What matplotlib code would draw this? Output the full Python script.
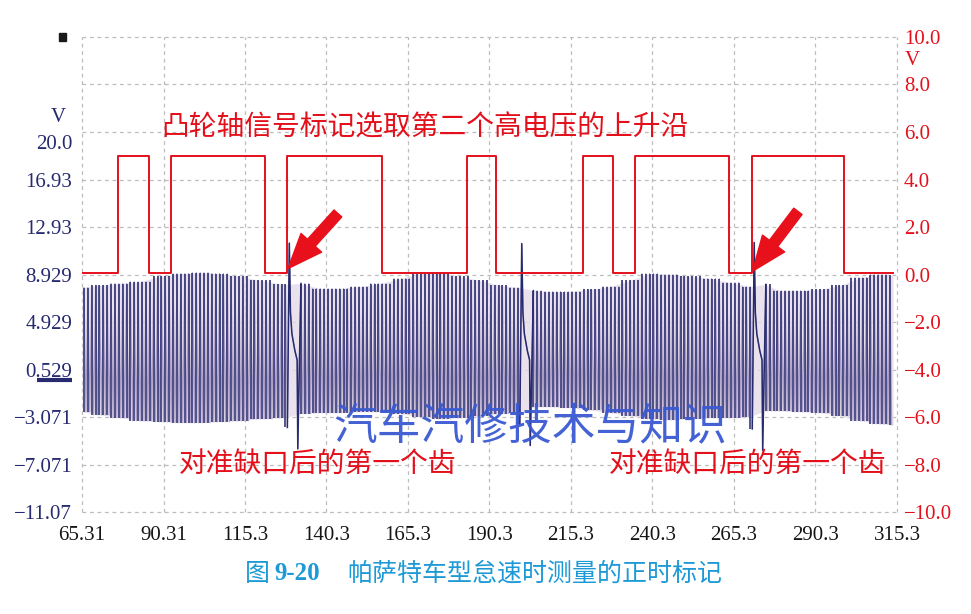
import numpy as np
import matplotlib
matplotlib.use("Agg")
import matplotlib.pyplot as plt
from matplotlib.patches import Rectangle
from matplotlib.lines import Line2D

plt.rcParams["font.family"] = ["Liberation Serif", "DejaVu Serif"]
CJK = ["Noto Sans CJK SC", "DejaVu Sans"]

NAVY = "#262a6e"
RED = "#e3101c"
GRID = "#bdbdbd"

# ── axis labels ──────────────────────────────────────────────────────────────

X_TICKS = [65.31, 90.31, 115.3, 140.3, 165.3, 190.3, 215.3, 240.3, 265.3, 290.3, 315.3]
X_LABELS = ["65.31", "90.31", "115.3", "140.3", "165.3", "190.3",
            "215.3", "240.3", "265.3", "290.3", "315.3"]

# crank channel scale (left); the top label sits a little below its gridline
LEFT_TICKS = [5.6, 4, 2, 0, -2, -4, -6, -8, -10]
LEFT_LABELS = ["20.0", "16.93", "12.93", "8.929", "4.929", "0.529",
               "\u22123.071", "\u22127.071", "\u221211.07"]

RIGHT_TICKS = [10, 8, 6, 4, 2, 0, -2, -4, -6, -8, -10]

# ── cam sensor (red) ─────────────────────────────────────────────────────────

CAM_START, CAM_END = 65.31, 314.1
CAM_EDGES = [76.4, 85.9, 92.6, 121.4, 128.1, 157.3, 183.5, 192.3,
             219.1, 228.3, 234.9, 263.7, 270.7, 299.1]
CAM_LOW, CAM_HIGH = 0.05, 5.0

# ── crank sensor (navy), 60-2 trigger wheel ──────────────────────────────────

CRANK_START, CRANK_END = 65.31, 314.1
GAP_TIMES = [128.9, 200.2, 271.5]        # last tooth before each gap
GAP_PEAK = [1.32, 1.30, 1.35]
GAP_DIP = [-7.34, -7.20, -7.40]
PRE_GAP_DIP = [-6.44, -6.30, -6.50]
GAP_SLOPE_T = [0.35, 0.80, 1.70, 2.40]  # ms after the gap tooth
GAP_SLOPE_V = [-1.60, -2.50, -3.20, -3.60]
GAP_PLUNGE_T = 2.60

ENV_T = [65.3, 70.8, 77.0, 83.1, 89.2, 95.4, 101.5, 107.6, 113.8, 119.9, 127.6,
         132.2, 138.3, 144.4, 150.6, 156.7, 162.9, 169.0, 175.1, 181.3, 187.4, 193.5, 199.1,
         204.3, 208.9, 215.0, 221.1, 227.3, 233.4, 239.5, 245.7, 251.8, 258.0, 264.1, 270.2,
         274.8, 279.4, 285.6, 291.7, 297.8, 304.0, 310.1, 314.1]
ENV_HI = [-0.55, -0.46, -0.38, -0.30, -0.08, 0.04, 0.08, 0.04, -0.08, -0.25, -0.42,
          -0.38, -0.59, -0.59, -0.51, -0.38, -0.17, 0.04, 0.08, -0.08, -0.25, -0.46, -0.55,
          -0.68, -0.72, -0.72, -0.63, -0.51, -0.25, 0.04, 0.00, -0.08, -0.17, -0.34, -0.51,
          -0.42, -0.68, -0.68, -0.63, -0.46, -0.13, 0.00, -0.04]
ENV_LO = [-5.78, -5.91, -6.03, -6.16, -6.20, -6.24, -6.24, -6.20, -6.16, -6.08, -6.03,
          -5.86, -5.82, -5.82, -5.78, -5.78, -5.86, -5.99, -6.08, -6.03, -5.95, -5.86, -5.82,
          -5.57, -5.57, -5.61, -5.70, -5.82, -5.95, -6.08, -6.12, -6.08, -6.03, -6.03, -5.99,
          -5.74, -5.74, -5.78, -5.82, -5.95, -6.16, -6.29, -6.33]


def cam_trace():
    t = [CAM_START]
    v = [CAM_LOW]
    level = CAM_LOW
    for e in CAM_EDGES:
        t += [e, e]
        nxt = CAM_HIGH if level == CAM_LOW else CAM_LOW
        v += [level, nxt]
        level = nxt
    t.append(CAM_END)
    v.append(level)
    return np.array(t), np.array(v)


def crank_trace():
    """Returns the full zigzag trace, the tooth flanks and the gap segments."""
    env_t = np.array(ENV_T)
    pitch = (GAP_TIMES[-1] - GAP_TIMES[0]) / (60 * (len(GAP_TIMES) - 1))

    # tooth index counted from the first gap tooth; teeth 1 and 2 of each rev are missing
    k_min = int(np.floor((CRANK_START - GAP_TIMES[0]) / pitch))
    k_max = int(np.ceil((CRANK_END - GAP_TIMES[0]) / pitch))
    t_out, v_out = [], []
    flanks = []          # (t, lo, hi) of every regular tooth
    gaps = []            # (t array, v array) of each gap transient
    for k in range(k_min, k_max + 1):
        if k % 60 in (1, 2):
            continue
        tk = GAP_TIMES[0] + k * pitch
        if tk < CRANK_START or tk > CRANK_END:
            continue
        i = int(np.argmin(np.abs(env_t - tk)))
        gap_idx = k // 60 if k % 60 == 0 else None
        pre_idx = (k + 1) // 60 if (k + 1) % 60 == 0 else None
        if gap_idx is not None and 0 <= gap_idx < len(GAP_TIMES):
            tg = GAP_TIMES[gap_idx]
            gt = [t_out[-1] if t_out else tg, tg] + [tg + dt for dt in GAP_SLOPE_T] \
                + [tg + GAP_PLUNGE_T, tg + 3 * pitch]
            gv = [v_out[-1] if v_out else 0, GAP_PEAK[gap_idx]] + list(GAP_SLOPE_V) \
                + [GAP_DIP[gap_idx], ENV_HI[int(np.argmin(np.abs(env_t - gt[-1])))]]
            gaps.append((gt, gv))
            t_out += gt[1:-1]
            v_out += gv[1:-1]
            continue
        low = ENV_LO[i]
        if pre_idx is not None and 0 <= pre_idx < len(GAP_TIMES):
            low = PRE_GAP_DIP[pre_idx]
        t_out.append(tk)
        v_out.append(ENV_HI[i])
        flanks.append((tk, low, ENV_HI[i]))
        if tk + pitch / 2 <= CRANK_END:
            t_out.append(tk + pitch / 2)
            v_out.append(low)
    return np.array(t_out), np.array(v_out), np.array(flanks), gaps


# ── figure ───────────────────────────────────────────────────────────────────

fig = plt.figure(figsize=(9.71, 6.14), dpi=100)
ax = fig.add_axes([0.08445, 0.16612, 0.83934, 0.77362])
ax2 = ax.twinx()

for a in (ax, ax2):
    a.set_xlim(X_TICKS[0], X_TICKS[-1])
    a.set_ylim(-10, 10)
    for s in a.spines.values():
        s.set_visible(False)

for yv in RIGHT_TICKS:
    ax.axhline(yv, color=GRID, lw=0.9, ls=(0, (3, 3)), zorder=0, clip_on=False)
for xv in X_TICKS:
    ax.axvline(xv, color=GRID, lw=0.9, ls=(0, (3, 3)), zorder=0, clip_on=False)

# crank signal: faint trace between the peaks, dark tooth flanks on top
ct, cv, flanks, gaps = crank_trace()
ax.fill_between(ENV_T, ENV_HI, ENV_LO, color="#e4dbe8", alpha=0.8, lw=0, zorder=1)
ax.plot(ct, cv, color="#a99cc4", lw=0.8, zorder=2)
ax.vlines(flanks[:, 0], flanks[:, 1], flanks[:, 2], color=NAVY, lw=1.1, zorder=3)
for gt, gv in gaps:
    ax.plot(gt, gv, color=NAVY, lw=1.1, zorder=3)

# cam signal
mt, mv = cam_trace()
ax2.plot(mt, mv, color=RED, lw=1.4, zorder=3)

ax.set_xticks(X_TICKS)
ax.set_xticklabels(X_LABELS, fontsize=15, color="#151515")
ax.set_yticks(LEFT_TICKS)
ax.set_yticklabels(LEFT_LABELS, fontsize=15, color=NAVY)
ax.tick_params(axis="both", length=0)
ax.tick_params(axis="x", pad=10)
ax.tick_params(axis="y", pad=7)

ax2.set_yticks(RIGHT_TICKS)
ax2.set_yticklabels([f"{v:.1f}".replace("-", "\u2212") for v in RIGHT_TICKS],
                    fontsize=15, color=RED)
ax2.tick_params(axis="y", length=0, pad=5)

# unit labels and channel marker
ax.text(-0.02, 6.6, "V", transform=ax.get_yaxis_transform(), ha="right",
        va="center", fontsize=15, color=NAVY)
ax2.text(1.01, 9.0, "V", transform=ax2.get_yaxis_transform(), ha="left",
         va="center", fontsize=15, color=RED)
ax.add_line(Line2D([-0.055, -0.012], [-4.43, -4.43], transform=ax.get_yaxis_transform(),
                   color=NAVY, lw=3, clip_on=False, solid_capstyle="butt"))
fig.add_artist(Rectangle((59 / 971, 1 - 41 / 614), 7 / 971, 8 / 614,
                         transform=fig.transFigure, color="#1a1a1a"))

# annotations
ax2.text(89.5, 6.2, "凸轮轴信号标记选取第二个高电压的上升沿", family=CJK,
         fontsize=20, color=RED, ha="left", va="center")
ax2.text(95.0, -7.97, "对准缺口后的第一个齿", family=CJK,
         fontsize=20, color=RED, ha="left", va="center")
ax2.text(227.0, -7.97, "对准缺口后的第一个齿", family=CJK,
         fontsize=20, color=RED, ha="left", va="center")
ax2.text(202.7, -6.37, "汽车汽修技术与知识", family=CJK,
         fontsize=31.5, color="#3a5ad2", ha="center", va="center", alpha=0.95)

arrow = dict(arrowstyle="simple,head_length=25,head_width=20,tail_width=7.5",
             mutation_scale=1, color="#e8101a", shrinkA=0, shrinkB=0)
ax2.annotate("", xy=(128.5, 0.25), xytext=(143.8, 2.57), arrowprops=arrow)
ax2.annotate("", xy=(271.0, 0.14), xytext=(284.9, 2.66), arrowprops=arrow)

# caption
CAP = "#1d9ad6"
fig.text(245 / 971, 1 - 574 / 614, "图", family=CJK, fontsize=18, color=CAP,
         ha="left", va="center")
fig.text(274 / 971, 1 - 574 / 614, "9-20", fontsize=18, fontweight="bold",
         color=CAP, ha="left", va="center")
fig.text(347 / 971, 1 - 574 / 614, "帕萨特车型怠速时测量的正时标记", family=CJK,
         fontsize=18, color=CAP, ha="left", va="center")

fig.savefig("out.png", dpi=100)
